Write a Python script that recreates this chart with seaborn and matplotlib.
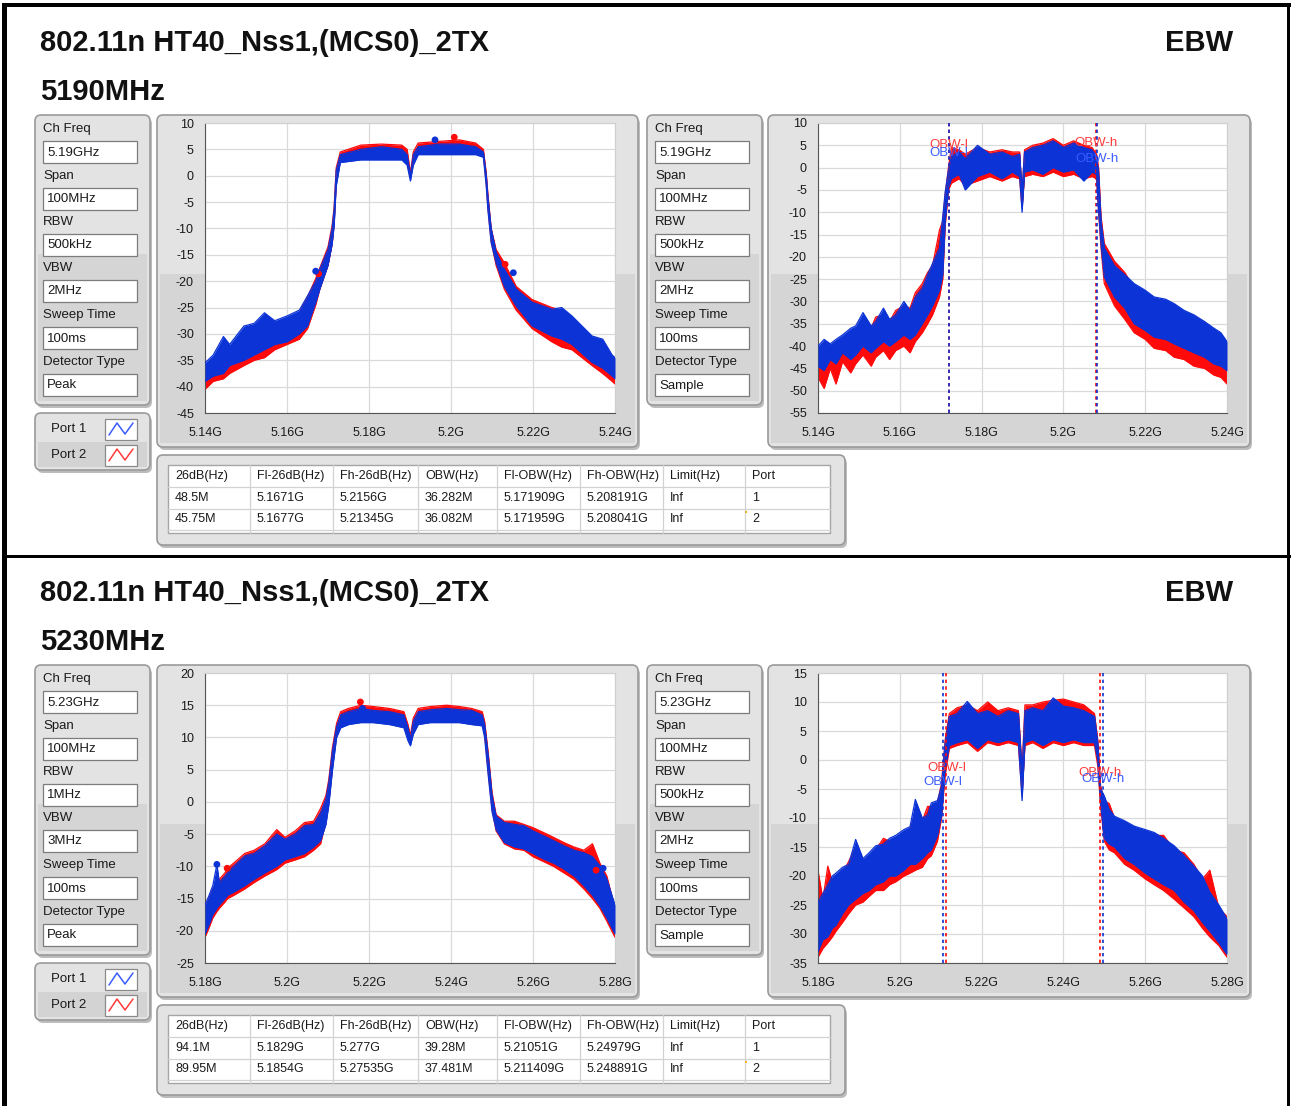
import numpy as np
import matplotlib
matplotlib.use('Agg')
import matplotlib.pyplot as plt
import seaborn as sns
from matplotlib.patches import FancyBboxPatch, Rectangle

# Canvas size in pixels
W, H = 1292, 1106

# ---------------- text content ----------------
title_mode = "802.11n HT40_Nss1,(MCS0)_2TX"
title_tag = "EBW"
channel_names = ["5190MHz", "5230MHz"]

setting_labels = ["Ch Freq", "Span", "RBW", "VBW", "Sweep Time", "Detector Type"]
set_5190_peak = ["5.19GHz", "100MHz", "500kHz", "2MHz", "100ms", "Peak"]
set_5190_sample = ["5.19GHz", "100MHz", "500kHz", "2MHz", "100ms", "Sample"]
set_5230_peak = ["5.23GHz", "100MHz", "1MHz", "3MHz", "100ms", "Peak"]
set_5230_sample = ["5.23GHz", "100MHz", "500kHz", "2MHz", "100ms", "Sample"]

legend_names = ["Port 1", "Port 2"]

table_header = ["26dB(Hz)", "Fl-26dB(Hz)", "Fh-26dB(Hz)", "OBW(Hz)", "Fl-OBW(Hz)",
                "Fh-OBW(Hz)", "Limit(Hz)", "Port"]
table_5190 = [["48.5M", "5.1671G", "5.2156G", "36.282M", "5.171909G", "5.208191G", "Inf", "1"],
              ["45.75M", "5.1677G", "5.21345G", "36.082M", "5.171959G", "5.208041G", "Inf", "2"]]
table_5230 = [["94.1M", "5.1829G", "5.277G", "39.28M", "5.21051G", "5.24979G", "Inf", "1"],
              ["89.95M", "5.1854G", "5.27535G", "37.481M", "5.211409G", "5.248891G", "Inf", "2"]]

# ---------------- axes ----------------
xticks_5190 = [5.14, 5.16, 5.18, 5.20, 5.22, 5.24]
xticks_5230 = [5.18, 5.20, 5.22, 5.24, 5.26, 5.28]
yticks_p1 = [-45, -40, -35, -30, -25, -20, -15, -10, -5, 0, 5, 10]
yticks_p2 = [-55, -50, -45, -40, -35, -30, -25, -20, -15, -10, -5, 0, 5, 10]
yticks_p3 = [-25, -20, -15, -10, -5, 0, 5, 10, 15, 20]
yticks_p4 = [-35, -30, -25, -20, -15, -10, -5, 0, 5, 10, 15]

# ---------------- spectrum envelopes (GHz, dB) ----------------
# 5190MHz, Peak detector
f1 = [5.1400, 5.1420, 5.1445, 5.1460, 5.1495, 5.1520, 5.1545, 5.1570, 5.1600, 5.1630, 5.1650,
      5.1670, 5.1680, 5.1700, 5.1710, 5.1715, 5.1720, 5.1730, 5.1780, 5.1830, 5.1880, 5.1893,
      5.1901, 5.1908, 5.1920, 5.1970, 5.2020, 5.2060, 5.2079, 5.2086, 5.2090, 5.2098, 5.2110,
      5.2130, 5.2159, 5.2198, 5.2246, 5.2270, 5.2295, 5.2344, 5.2370, 5.2393, 5.2400]
b1_lo = [-39.0, -38.0, -37.5, -36.0, -35.0, -34.0, -33.0, -32.0, -31.5, -30.0, -28.5, -24.0,
         -21.5, -17.0, -13.0, -9.5, -2.0, 2.5, 3.0, 3.0, 3.0, 2.0, -1.0, 2.0, 4.0, 4.0, 4.0,
         4.0, 3.5, -2.0, -6.5, -12.7, -16.5, -21.0, -24.7, -28.5, -30.4, -31.0, -32.0, -35.4,
         -36.5, -38.0, -38.5]
b1_hi = [-35.5, -34.0, -30.5, -32.0, -28.5, -28.0, -26.0, -27.5, -26.6, -25.5, -22.8, -20.0,
         -17.7, -14.0, -10.0, -6.4, 1.0, 4.0, 5.0, 5.5, 5.0, 4.0, 0.0, 4.0, 5.5, 6.0, 6.0, 5.5,
         4.5, 0.0, -4.0, -10.0, -14.5, -17.7, -21.5, -24.0, -25.3, -25.0, -26.6, -30.4, -31.0,
         -34.0, -34.5]
r1_lo = [-40.5, -39.0, -38.5, -37.5, -36.0, -35.0, -34.5, -33.0, -32.0, -31.0, -29.0, -24.5,
         -21.5, -17.0, -13.0, -9.0, -1.5, 3.0, 3.5, 3.5, 3.5, 2.5, -0.5, 2.5, 4.5, 4.5, 4.5,
         4.5, 4.0, -1.5, -6.0, -12.5, -17.0, -21.5, -25.5, -29.0, -31.5, -32.5, -33.0, -36.0,
         -37.5, -39.0, -39.5]
r1_hi = [-36.5, -35.0, -33.0, -33.0, -30.0, -29.0, -28.5, -28.5, -27.5, -26.0, -23.0, -19.5,
         -17.5, -13.5, -9.5, -6.0, 1.5, 4.5, 5.8, 6.0, 5.8, 5.0, 0.5, 4.5, 6.2, 6.5, 6.8, 6.2,
         5.0, 0.5, -3.5, -10.0, -14.0, -16.5, -21.0, -23.5, -25.0, -25.5, -27.0, -31.0, -31.5,
         -35.0, -35.5]
mk1_blue_f = [5.1670, 5.1961, 5.2152]
mk1_blue_v = [-18.1, 6.8, -18.4]
mk1_red_f = [5.1677, 5.2008, 5.2132]
mk1_red_v = [-18.6, 7.3, -16.8]

# 5190MHz, Sample detector
f2 = [5.1400, 5.1415, 5.1430, 5.1444, 5.1460, 5.1480, 5.1492, 5.1510, 5.1530, 5.1541, 5.1560,
      5.1575, 5.1590, 5.1610, 5.1625, 5.1638, 5.1655, 5.1668, 5.1680, 5.1697, 5.1705, 5.1711,
      5.1719, 5.1726, 5.1745, 5.1760, 5.1790, 5.1820, 5.1850, 5.1875, 5.1893, 5.1899, 5.1905,
      5.1925, 5.1950, 5.1975, 5.2000, 5.2025, 5.2050, 5.2070, 5.2081, 5.2086, 5.2092, 5.2100,
      5.2125, 5.2150, 5.2173, 5.2200, 5.2222, 5.2250, 5.2271, 5.2295, 5.2319, 5.2345, 5.2368,
      5.2385, 5.2400]
b2_lo = [-44.5, -45.5, -43.0, -44.0, -41.5, -43.0, -42.0, -40.0, -41.5, -40.5, -39.0, -40.0,
         -39.0, -37.5, -38.5, -37.5, -35.0, -33.0, -31.0, -27.5, -24.0, -12.0, -4.5, -2.5, -1.5,
         -5.0, -2.0, -1.0, -2.5, -1.0, -2.0, -10.0, -1.0, -0.5, -1.5, 0.0, -1.0, -0.5, -3.0,
         -1.0, -1.5, -9.5, -17.0, -24.5, -29.0, -31.5, -35.0, -36.5, -38.0, -38.5, -39.5, -40.5,
         -41.5, -42.5, -44.0, -44.5, -45.5]
b2_hi = [-40.0, -38.5, -39.5, -38.5, -37.5, -36.0, -35.5, -32.5, -35.5, -34.5, -31.5, -34.0,
         -33.0, -30.0, -32.0, -29.0, -27.0, -24.0, -21.5, -18.0, -11.0, -5.5, -0.5, 2.5, 3.5,
         2.0, 5.0, 3.0, 3.5, 2.5, 3.0, -5.0, 3.5, 4.5, 5.0, 6.0, 4.5, 5.5, 4.5, 4.0, 2.5, -1.0,
         -12.0, -18.0, -22.0, -24.0, -26.0, -27.5, -29.0, -29.5, -30.5, -32.0, -33.0, -34.5,
         -36.0, -37.0, -39.0]
r2_lo = [-47.0, -49.5, -45.0, -48.5, -43.5, -46.0, -44.0, -42.0, -44.5, -42.5, -41.0, -43.0,
         -41.0, -40.0, -41.5, -39.0, -37.0, -35.0, -33.0, -29.0, -25.0, -13.0, -5.0, -3.5, -2.5,
         -4.0, -3.0, -2.0, -3.0, -2.0, -2.5, -9.0, -2.0, -1.5, -2.0, -1.0, -2.0, -1.5, -2.5,
         -2.0, -2.5, -10.0, -18.0, -26.0, -31.0, -34.0, -37.0, -38.5, -40.5, -41.0, -42.5,
         -43.0, -44.5, -45.0, -46.5, -47.0, -48.5]
r2_hi = [-41.0, -39.5, -40.0, -39.0, -38.0, -37.0, -36.5, -34.0, -36.0, -33.5, -33.0, -34.5,
         -32.0, -31.0, -31.5, -28.0, -26.0, -23.5, -22.0, -14.0, -12.0, -6.0, 0.0, 4.5, 4.0,
         3.0, 4.5, 3.5, 4.0, 3.5, 3.5, -6.0, 4.0, 5.0, 5.5, 6.5, 5.0, 6.0, 5.0, 4.5, 3.0, 0.0,
         -11.0, -17.0, -21.0, -23.5, -27.0, -28.5, -29.5, -30.0, -31.0, -33.0, -34.0, -35.0,
         -37.0, -38.0, -40.0]
obw2_blue = [5.171909, 5.208191]
obw2_red = [5.171959, 5.208041]
obw2_blue_lbl_y = [3.3, 2.0]
obw2_red_lbl_y = [5.1, 5.5]

# 5230MHz, Peak detector
f3 = [5.1800, 5.1810, 5.1819, 5.1829, 5.1835, 5.1849, 5.1855, 5.1870, 5.1897, 5.1920, 5.1946,
      5.1975, 5.1995, 5.2020, 5.2043, 5.2065, 5.2082, 5.2095, 5.2102, 5.2111, 5.2121, 5.2131,
      5.2150, 5.2180, 5.2210, 5.2250, 5.2285, 5.2295, 5.2301, 5.2308, 5.2320, 5.2350, 5.2390,
      5.2420, 5.2450, 5.2476, 5.2482, 5.2491, 5.2500, 5.2510, 5.2530, 5.2555, 5.2578, 5.2600,
      5.2627, 5.2650, 5.2675, 5.2700, 5.2724, 5.2745, 5.2763, 5.2780, 5.2800]
b3_lo = [-20.5, -19.0, -17.5, -16.5, -16.0, -15.0, -14.5, -14.0, -13.0, -12.0, -11.0, -10.0,
         -9.0, -8.5, -8.0, -7.0, -6.0, -3.5, -0.5, 5.0, 10.0, 11.5, 12.0, 12.3, 12.3, 12.0, 11.5,
         9.5, 8.7, 10.5, 12.0, 12.3, 12.3, 12.3, 12.0, 11.8, 10.0, 4.0, -1.5, -4.3, -6.3, -7.0,
         -7.3, -8.0, -8.9, -9.5, -10.4, -11.5, -13.0, -14.5, -16.1, -18.0, -20.5]
b3_hi = [-16.0, -14.5, -13.0, -9.7, -12.5, -11.5, -11.0, -10.0, -8.4, -8.0, -6.8, -5.0, -5.8,
         -5.0, -3.7, -3.5, -1.7, 0.5, 3.0, 8.0, 11.7, 13.5, 14.0, 14.5, 14.2, 14.0, 13.5, 11.5,
         9.8, 12.5, 14.0, 14.3, 14.5, 14.3, 14.2, 13.5, 12.0, 7.0, 1.0, -2.2, -3.2, -3.5, -3.7,
         -4.5, -5.3, -6.0, -6.8, -7.5, -7.9, -8.5, -9.9, -12.0, -16.0]
r3_lo = [-21.0, -19.5, -18.0, -17.0, -16.5, -15.5, -15.0, -14.5, -13.5, -12.5, -11.5, -10.5,
         -9.5, -9.0, -8.5, -7.5, -6.5, -3.0, 0.0, 5.5, 10.5, 12.0, 12.5, 12.8, 12.8, 12.5, 12.0,
         10.0, 9.0, 11.0, 12.5, 12.8, 12.8, 12.8, 12.5, 12.3, 10.5, 4.5, -1.0, -4.5, -6.5, -7.3,
         -7.5, -8.5, -9.3, -10.0, -11.0, -12.0, -13.5, -15.0, -16.5, -18.5, -21.0]
r3_hi = [-16.5, -15.0, -13.5, -12.5, -12.0, -11.0, -10.3, -9.5, -8.0, -7.5, -6.5, -4.3, -5.5,
         -4.5, -3.2, -3.0, -1.0, 1.0, 3.5, 8.5, 12.2, 14.0, 14.5, 15.0, 14.8, 14.5, 14.0, 12.0,
         10.3, 13.0, 14.5, 14.8, 15.0, 14.8, 14.5, 14.0, 12.5, 7.5, 1.5, -2.0, -3.0, -3.0, -3.5,
         -4.0, -4.8, -5.5, -6.3, -7.0, -7.5, -6.5, -9.5, -11.5, -16.5]
mk3_blue_f = [5.1829, 5.2184, 5.2771]
mk3_blue_v = [-9.7, 14.5, -10.3]
mk3_red_f = [5.1854, 5.2179, 5.2754]
mk3_red_v = [-10.3, 15.5, -10.6]

# 5230MHz, Sample detector
f4 = [5.1800, 5.1812, 5.1824, 5.1835, 5.1844, 5.1860, 5.1875, 5.1892, 5.1910, 5.1925, 5.1941,
      5.1960, 5.1975, 5.1990, 5.2010, 5.2025, 5.2038, 5.2055, 5.2068, 5.2077, 5.2092, 5.2102,
      5.2111, 5.2121, 5.2140, 5.2165, 5.2190, 5.2215, 5.2240, 5.2265, 5.2290, 5.2299, 5.2306,
      5.2325, 5.2350, 5.2375, 5.2400, 5.2425, 5.2450, 5.2476, 5.2484, 5.2491, 5.2500, 5.2512,
      5.2525, 5.2550, 5.2573, 5.2600, 5.2622, 5.2645, 5.2671, 5.2695, 5.2719, 5.2740, 5.2758,
      5.2780, 5.2800]
b4_lo = [-33.0, -31.0, -30.5, -29.0, -28.5, -26.5, -25.0, -24.0, -23.0, -22.5, -21.5, -21.0,
         -20.0, -20.0, -19.0, -18.0, -18.0, -17.0, -16.0, -15.5, -13.0, -9.5, -1.5, 2.5, 3.0,
         3.5, 2.0, 3.5, 3.0, 3.5, 3.0, -7.0, 3.0, 3.5, 2.5, 3.5, 3.0, 3.5, 3.0, 3.0, 0.0, -7.5,
         -13.5, -14.5, -15.0, -17.0, -18.0, -19.5, -20.5, -21.5, -22.5, -24.5, -26.0, -28.0,
         -29.5, -31.5, -33.5]
b4_hi = [-24.5, -23.0, -21.5, -20.0, -19.5, -18.5, -18.0, -13.7, -17.0, -16.0, -14.8, -14.5,
         -13.5, -13.0, -12.0, -11.5, -6.8, -10.0, -9.5, -7.4, -7.0, -4.5, 3.0, 7.5, 8.0, 10.1,
         8.0, 8.5, 7.5, 8.5, 8.0, -2.0, 8.5, 9.0, 8.5, 10.7, 9.3, 9.0, 8.5, 7.5, 3.0, -5.0, -6.2,
         -8.5, -9.7, -10.5, -11.4, -12.0, -12.5, -13.5, -14.8, -16.5, -18.3, -20.0, -22.8,
         -25.0, -27.4]
r4_lo = [-34.0, -32.5, -31.5, -30.5, -29.5, -28.0, -26.5, -25.0, -24.5, -23.5, -22.5, -22.5,
         -21.5, -21.0, -20.0, -19.5, -19.0, -18.5, -17.0, -16.5, -14.0, -10.0, -2.5, 2.0, 2.5,
         3.0, 1.5, 3.0, 2.5, 3.0, 2.5, -6.0, 2.5, 3.0, 2.0, 3.0, 2.5, 3.0, 2.5, 2.5, -1.0, -8.0,
         -14.0, -15.5, -16.0, -18.0, -19.0, -20.5, -21.5, -22.5, -24.0, -25.5, -27.0, -29.0,
         -30.5, -32.0, -34.0]
r4_hi = [-19.1, -24.0, -18.3, -21.0, -20.5, -19.5, -17.5, -15.0, -17.5, -16.5, -15.5, -13.5,
         -14.0, -13.5, -12.5, -12.0, -9.0, -10.5, -8.0, -8.0, -7.5, -4.0, 3.5, 8.0, 9.0, 9.5,
         8.5, 10.0, 8.5, 9.0, 8.5, -1.5, 9.5, 9.5, 10.0, 10.3, 10.5, 10.0, 9.5, 8.0, 3.5, -4.5,
         -7.0, -7.5, -10.0, -11.0, -12.0, -12.5, -13.0, -13.0, -15.5, -16.0, -18.0, -20.5,
         -19.0, -25.5, -27.0]
obw4_blue = [5.21051, 5.24979]
obw4_red = [5.211409, 5.248891]
obw4_blue_lbl_y = [-3.75, -3.3]
obw4_red_lbl_y = [-1.3, -2.2]

# ---------------- style ----------------
BLUE = '#0b33d6'
RED = '#ff0a0a'
LBL_BLUE = '#3a5cff'
LBL_RED = '#ff3b3b'
UI_FONT = ['Liberation Sans', 'DejaVu Sans']
TITLE_FONT = ['Liberation Sans', 'DejaVu Sans']

sns.set_style('white')
plt.rcParams['font.family'] = UI_FONT

fig = plt.figure(figsize=(W / 100, H / 100), dpi=100)
fig.patch.set_facecolor('white')
cv = fig.add_axes([0, 0, 1, 1])
cv.set_xlim(0, W)
cv.set_ylim(H, 0)
cv.axis('off')


def px_rect(x0, y0, x1, y1):
    return [x0 / W, 1 - y1 / H, (x1 - x0) / W, (y1 - y0) / H]


def panel(x0, y0, x1, y1, split=0.48, r=6):
    style = f"round,pad=0,rounding_size={r}"
    cv.add_patch(FancyBboxPatch((x0 + 2, y0 + 3), x1 - x0, y1 - y0, boxstyle=style,
                                fc='#bcbcbc', ec='none', zorder=1))
    cv.add_patch(FancyBboxPatch((x0, y0), x1 - x0, y1 - y0, boxstyle=style,
                                fc='#e3e3e3', ec='#9a9a9a', lw=1.2, zorder=2))
    if split is not None:
        ys = y0 + (y1 - y0) * split
        cv.add_patch(Rectangle((x0 + 3, ys), x1 - x0 - 6, y1 - ys - 4,
                               fc='#d5d5d5', ec='none', zorder=2))


def settings(x0, y0, values):
    panel(x0 - 8, y0, x0 + 107, y0 + 290)
    lab_y = [14, 61, 107, 153, 200, 247]
    for ly, lab, val in zip(lab_y, setting_labels, values):
        cv.text(x0, y0 + ly, lab, fontsize=9.5, va='center', ha='left', color='#1a1a1a', zorder=5)
        top = y0 + ly + 12
        cv.add_patch(Rectangle((x0, top), 94, 22, fc='white', ec='#7c7c7c', lw=0.9, zorder=4))
        cv.text(x0 + 4, top + 11.5, val, fontsize=9.5, va='center', ha='left',
                color='#1a1a1a', zorder=5)


def legend_box(y0):
    panel(35, y0, 150, y0 + 57, split=None)
    cv.add_patch(Rectangle((38, y0 + 29), 109, 25, fc='#d3d3d3', ec='none', zorder=3))
    for i, (name, col) in enumerate(zip(legend_names, [LBL_BLUE, LBL_RED])):
        cy = y0 + 16 + 26 * i
        cv.text(69, cy, name, fontsize=9.5, va='center', ha='center', color='#1a1a1a', zorder=5)
        cv.add_patch(Rectangle((105, cy - 10), 32, 21, fc='white', ec='#8a8a8a', lw=0.9, zorder=4))
        cv.plot([109, 117, 125, 133], [cy + 6, cy - 6, cy + 5, cy - 6], color=col, lw=1.1, zorder=5)


def table(y0, rows):
    panel(157, y0, 845, y0 + 90, split=None)
    col_x = [168, 250, 333, 418, 497, 580, 663, 745, 830]
    row_y = [y0 + 10, y0 + 32, y0 + 54, y0 + 75]
    cv.add_patch(Rectangle((168, y0 + 10), 662, 68, fc='white', ec='#a5a5a5', lw=1.0, zorder=4))
    for cx in col_x[1:-1]:
        cv.plot([cx, cx], [y0 + 10, y0 + 78], color='#d2d2d2', lw=0.9, zorder=5)
    for ry in row_y[1:]:
        cv.plot([168, 830], [ry, ry], color='#d2d2d2', lw=0.9, zorder=5)
    for r, cells in enumerate([table_header] + rows):
        cy = (row_y[r] + row_y[r + 1]) / 2
        for cx, txt in zip(col_x, cells):
            cv.text(cx + 7, cy, txt, fontsize=9, va='center', ha='left', color='#1a1a1a', zorder=6)
    cv.add_patch(Rectangle((745, y0 + 56), 2, 2, fc='#f0b020', ec='none', zorder=6))


def spectrum(box, f, b_lo, b_hi, r_lo, r_hi, ylim, yticks, xticks):
    ax = fig.add_axes(px_rect(*box))
    ax.set_facecolor('white')
    ax.fill_between(f, r_lo, r_hi, color=RED, lw=0, zorder=2)
    for y in (r_lo, r_hi):
        sns.lineplot(x=f, y=y, ax=ax, color=RED, lw=0.9, sort=False, zorder=2)
    ax.fill_between(f, b_lo, b_hi, color=BLUE, lw=0, zorder=3)
    for y in (b_lo, b_hi):
        sns.lineplot(x=f, y=y, ax=ax, color=BLUE, lw=0.9, sort=False, zorder=3)
    ax.set_xlim(xticks[0], xticks[-1])
    ax.set_ylim(*ylim)
    ax.set_xticks(xticks)
    ax.set_xticklabels([f"{v:g}G" for v in xticks])
    ax.set_yticks(yticks)
    ax.set_yticklabels([f"{v:g}" for v in yticks])
    ax.grid(True, color='#dadada', lw=0.9)
    ax.set_axisbelow(True)
    for s in ('top', 'right'):
        ax.spines[s].set_color('#d0d0d0')
    for s in ('left', 'bottom'):
        ax.spines[s].set_color('#555555')
    ax.tick_params(direction='out', length=5, width=1, colors='#333333', labelcolor='#1a1a1a',
                   labelsize=9, pad=3)
    ax.tick_params(axis='x', pad=5)
    ax.set_xlabel('')
    ax.set_ylabel('')
    return ax


def markers(ax, bf, bv, rf, rv):
    sns.scatterplot(x=rf, y=rv, ax=ax, color=RED, s=24, edgecolor='none', zorder=6)
    sns.scatterplot(x=bf, y=bv, ax=ax, color=BLUE, s=24, edgecolor='none', zorder=6)


def obw(ax, xb, xr, yb, yr):
    for x in xr:
        ax.axvline(x, color=RED, ls=(0, (2, 2)), lw=1.2, zorder=4)
    for x in xb:
        ax.axvline(x, color=BLUE, ls=(0, (2, 2)), lw=1.2, zorder=4)
    # the two ports' labels sit almost on top of each other, as in the source
    for x, y, t in zip(xr, yr, ['OBW-l', 'OBW-h']):
        ax.text(x, y, t, color=LBL_RED, fontsize=9.5, ha='center', va='center', zorder=7)
    for x, y, t in zip(xb, yb, ['OBW-l', 'OBW-h']):
        ax.text(x, y, t, color=LBL_BLUE, fontsize=9.5, ha='center', va='center', zorder=7)


# ---------------- outer frame ----------------
cv.add_patch(Rectangle((2, 3), 1289, 4, fc='black', ec='none', zorder=8))
cv.add_patch(Rectangle((2, 3), 5, H, fc='black', ec='none', zorder=8))
cv.add_patch(Rectangle((1287, 3), 3, H, fc='black', ec='none', zorder=8))
cv.add_patch(Rectangle((2, 555), 1289, 2.5, fc='black', ec='none', zorder=8))

sections = [
    dict(off=0, name=channel_names[0], left=set_5190_peak, right=set_5190_sample, rows=table_5190),
    dict(off=550, name=channel_names[1], left=set_5230_peak, right=set_5230_sample, rows=table_5230),
]

for sec in sections:
    o = sec['off']
    cv.text(40, 43 + o, title_mode, fontsize=21, fontweight='bold', family=TITLE_FONT,
            va='center', ha='left', color='#111111')
    cv.text(1233, 43 + o, title_tag, fontsize=21, fontweight='bold', family=TITLE_FONT,
            va='center', ha='right', color='#111111')
    cv.text(40, 92 + o, sec['name'], fontsize=21, fontweight='bold', family=TITLE_FONT,
            va='center', ha='left', color='#111111')
    settings(43, 115 + o, sec['left'])
    settings(655, 115 + o, sec['right'])
    legend_box(413 + o)
    panel(157, 115 + o, 638, 447 + o)
    panel(768, 115 + o, 1250, 447 + o)
    table(455 + o, sec['rows'])

# ---------------- spectra ----------------
ax1 = spectrum((205, 123, 615, 413), f1, b1_lo, b1_hi, r1_lo, r1_hi, (-45, 10), yticks_p1, xticks_5190)
markers(ax1, mk1_blue_f, mk1_blue_v, mk1_red_f, mk1_red_v)

ax2 = spectrum((818, 123, 1227, 413), f2, b2_lo, b2_hi, r2_lo, r2_hi, (-55, 10), yticks_p2, xticks_5190)
obw(ax2, obw2_blue, obw2_red, obw2_blue_lbl_y, obw2_red_lbl_y)

ax3 = spectrum((205, 673, 615, 963), f3, b3_lo, b3_hi, r3_lo, r3_hi, (-25, 20), yticks_p3, xticks_5230)
markers(ax3, mk3_blue_f, mk3_blue_v, mk3_red_f, mk3_red_v)

ax4 = spectrum((818, 673, 1227, 963), f4, b4_lo, b4_hi, r4_lo, r4_hi, (-35, 15), yticks_p4, xticks_5230)
obw(ax4, obw4_blue, obw4_red, obw4_blue_lbl_y, obw4_red_lbl_y)

fig.savefig('out.png', dpi=100)
